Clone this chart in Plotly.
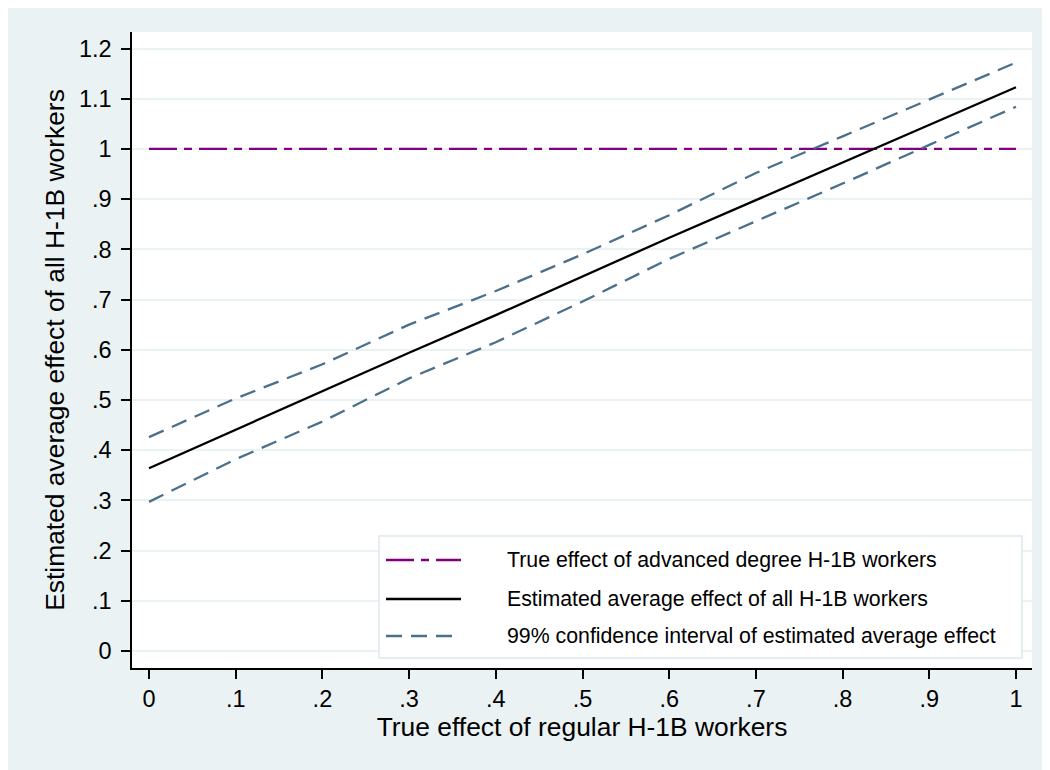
import plotly.graph_objects as go

# ---- data ----
x_vals = [0, 0.1, 0.2, 0.3, 0.4, 0.5, 0.6, 0.7, 0.8, 0.9, 1.0]
true_adv = [1.0, 1.0, 1.0, 1.0, 1.0, 1.0, 1.0, 1.0, 1.0, 1.0, 1.0]
est_avg = [0.364, 0.441, 0.517, 0.594, 0.669, 0.746, 0.823, 0.898, 0.973, 1.049, 1.123]
ci_upper = [0.426, 0.503, 0.571, 0.650, 0.717, 0.790, 0.868, 0.952, 1.025, 1.099, 1.172]
ci_lower = [0.297, 0.382, 0.457, 0.543, 0.615, 0.696, 0.781, 0.856, 0.931, 1.008, 1.084]

x_ticks = [0, 0.1, 0.2, 0.3, 0.4, 0.5, 0.6, 0.7, 0.8, 0.9, 1.0]
x_ticklabels = ["0", ".1", ".2", ".3", ".4", ".5", ".6", ".7", ".8", ".9", "1"]
y_ticks = [0, 0.1, 0.2, 0.3, 0.4, 0.5, 0.6, 0.7, 0.8, 0.9, 1.0, 1.1, 1.2]
y_ticklabels = ["0", ".1", ".2", ".3", ".4", ".5", ".6", ".7", ".8", ".9", "1", "1.1", "1.2"]

legend_labels = [
    "True effect of advanced degree H-1B workers",
    "Estimated average effect of all H-1B workers",
    "99% confidence interval of estimated average effect",
]

# ---- styles ----
PURPLE = "#800080"
BLACK = "#000000"
STEEL = "#4A708B"
BG = "#EAF2F3"
FONT = "Arial, Liberation Sans, sans-serif"
PURPLE_DASH = "28px,7px,8px,7px"
CI_DASH = "16px,9px"
LW = 2.3

OFF = 8  # page body margin in the screenshot
W, H = 1050, 770
# plot area in screenshot pixels: x 132..1032, y 32..668
ML, MR, MT, MB = 132 - OFF, W - (1032 - OFF), 32 - OFF, H - (668 - OFF)
PW, PH = W - ML - MR, H - MT - MB


def sx(px):
    return (px - OFF - ML) / PW


def sy(py):
    return (H - MB - (py - OFF)) / PH


fig = go.Figure()
fig.add_trace(go.Scatter(x=x_vals, y=true_adv, mode="lines",
                         line=dict(color=PURPLE, width=LW, dash=PURPLE_DASH),
                         showlegend=False, hoverinfo="skip"))
fig.add_trace(go.Scatter(x=x_vals, y=est_avg, mode="lines",
                         line=dict(color=BLACK, width=LW),
                         showlegend=False, hoverinfo="skip"))
fig.add_trace(go.Scatter(x=x_vals, y=ci_upper, mode="lines",
                         line=dict(color=STEEL, width=LW, dash=CI_DASH),
                         showlegend=False, hoverinfo="skip"))
fig.add_trace(go.Scatter(x=x_vals, y=ci_lower, mode="lines",
                         line=dict(color=STEEL, width=LW, dash=CI_DASH),
                         showlegend=False, hoverinfo="skip"))

shapes = [
    dict(type="rect", xref="paper", yref="paper", layer="above",
         x0=sx(379), x1=sx(1022), y0=sy(658), y1=sy(536),
         fillcolor="white", line=dict(color="#DDE8EB", width=1.5)),
]
annotations = []
leg_rows = [560, 599, 636]
leg_styles = [dict(color=PURPLE, width=LW, dash=PURPLE_DASH),
              dict(color=BLACK, width=LW),
              dict(color=STEEL, width=LW, dash=CI_DASH)]
for row, sty, lab in zip(leg_rows, leg_styles, legend_labels):
    shapes.append(dict(type="line", xref="paper", yref="paper", layer="above",
                       x0=sx(386), x1=sx(461), y0=sy(row), y1=sy(row), line=sty))
    annotations.append(dict(xref="paper", yref="paper", x=sx(505), y=sy(row),
                            xanchor="left", yanchor="middle", showarrow=False, text=lab,
                            font=dict(family=FONT, size=21.3, color="#000000")))

fig.update_layout(
    width=W, height=H,
    margin=dict(l=ML, r=MR, t=MT, b=MB, pad=0),
    paper_bgcolor=BG, plot_bgcolor="white",
    font=dict(family=FONT, color="#000000"),
    shapes=shapes, annotations=annotations,
    showlegend=False,
    xaxis=dict(
        range=[-17 / 867, 1 + 16 / 867],
        tickmode="array", tickvals=x_ticks, ticktext=x_ticklabels,
        ticks="outside", ticklen=9, tickwidth=1.5, tickcolor="black",
        tickfont=dict(family=FONT, size=23.5, color="black"),
        showline=True, linecolor="black", linewidth=1.5,
        showgrid=False, zeroline=False,
        title=dict(text="True effect of regular H-1B workers",
                   font=dict(family=FONT, size=26.4, color="black"), standoff=4),
    ),
    yaxis=dict(
        range=[-17 / 501.4, 1.2 + 16.5 / 501.4],
        tickmode="array", tickvals=y_ticks, ticktext=y_ticklabels,
        ticks="outside", ticklen=9, tickwidth=1.5, tickcolor="black",
        tickfont=dict(family=FONT, size=23.5, color="black"),
        ticklabelstandoff=5,
        showline=True, linecolor="black", linewidth=1.5,
        showgrid=True, gridcolor=BG, gridwidth=2, zeroline=False,
        title=dict(text="Estimated average effect of all H-1B workers",
                   font=dict(family=FONT, size=26.4, color="black"), standoff=7),
    ),
)

fig.write_html("out.html")
